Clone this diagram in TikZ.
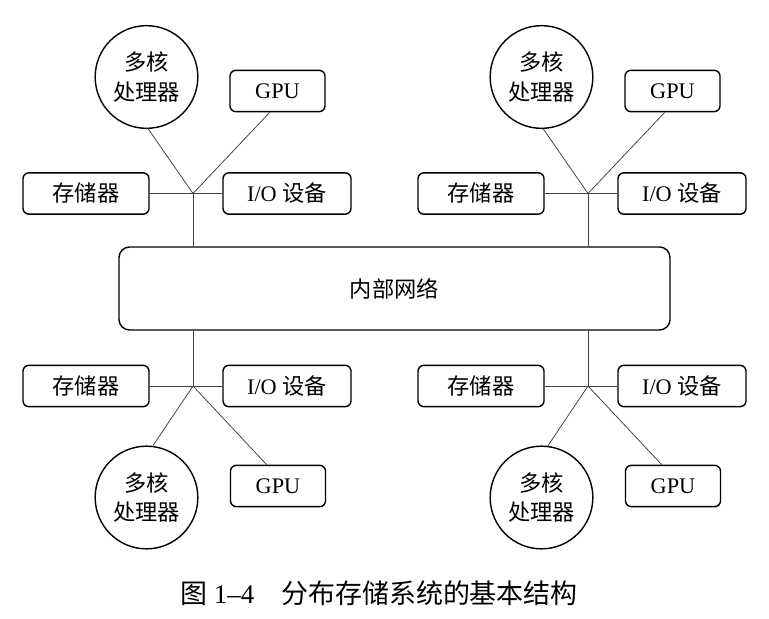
\documentclass[tikz,border=0pt]{standalone}
\usepackage{fontspec}
\setmainfont{Liberation Serif}
\newfontfamily\cjk{Noto Sans CJK SC}
\begin{document}
\begin{tikzpicture}[x=0.03cm,y=-0.03cm,
    caja/.style={draw,line width=1.2pt,rounded corners=5pt,inner sep=0pt,
        minimum height=1.24cm,font=\fontsize{19}{22}\selectfont},
    nucleo/.style={draw,circle,line width=1.2pt,inner sep=0pt,minimum size=3.08cm,
        align=center,font=\fontsize{19}{25.5}\selectfont\cjk},
    enlace/.style={draw=black!75,line width=0.65pt}]
    \useasboundingbox (0,0) rectangle (769,618);

    % Red interna en el centro
    \node[caja,minimum width=16.53cm,minimum height=2.49cm,rounded corners=9pt,font=\fontsize{19}{22}\selectfont\cjk]
        (red) at (394.5,288.5) {内部网络};

    % Dos grupos arriba: procesador, GPU, memoria y E/S
    \foreach \dx/\n in {0/a,395/b} {
        \node[nucleo] (cpu\n) at (146.5+\dx,77) {多核\\处理器};
        \node[caja,minimum width=2.85cm] (gpu\n) at (277.5+\dx,91) {GPU};
        \node[caja,minimum width=3.78cm] (mem\n) at (86+\dx,193.5) {\cjk 存储器};
        \node[caja,minimum width=3.84cm] (io\n) at (287+\dx,193.5) {I/O {\cjk 设备}};
        \coordinate (j\n) at (193+\dx,193.5);
        \draw[enlace] (mem\n) -- (io\n);
        \draw[enlace] (j\n) -- (cpu\n.-88);
        \draw[enlace] (j\n) -- (gpu\n.-110);
        \draw[enlace] (j\n) -- (j\n |- red.north);
    }

    % Dos grupos abajo
    \foreach \dx/\n in {0/c,395/d} {
        \node[nucleo] (cpu\n) at (146.5+\dx,497.5) {多核\\处理器};
        \node[caja,minimum width=2.85cm] (gpu\n) at (278+\dx,486) {GPU};
        \node[caja,minimum width=3.78cm] (mem\n) at (86+\dx,386) {\cjk 存储器};
        \node[caja,minimum width=3.84cm] (io\n) at (287+\dx,386) {I/O {\cjk 设备}};
        \coordinate (j\n) at (193+\dx,386);
        \draw[enlace] (mem\n) -- (io\n);
        \draw[enlace] (j\n) -- (cpu\n.83);
        \draw[enlace] (j\n) -- (gpu\n.118);
        \draw[enlace] (j\n) -- (j\n |- red.south);
    }

    % Pie de figura
    \node[font=\fontsize{23}{26}\selectfont] (pie) at (379,593)
        {{\cjk 图} 1–4\quad{\cjk 分布存储系统的基本结构}};
\end{tikzpicture}
\end{document}
